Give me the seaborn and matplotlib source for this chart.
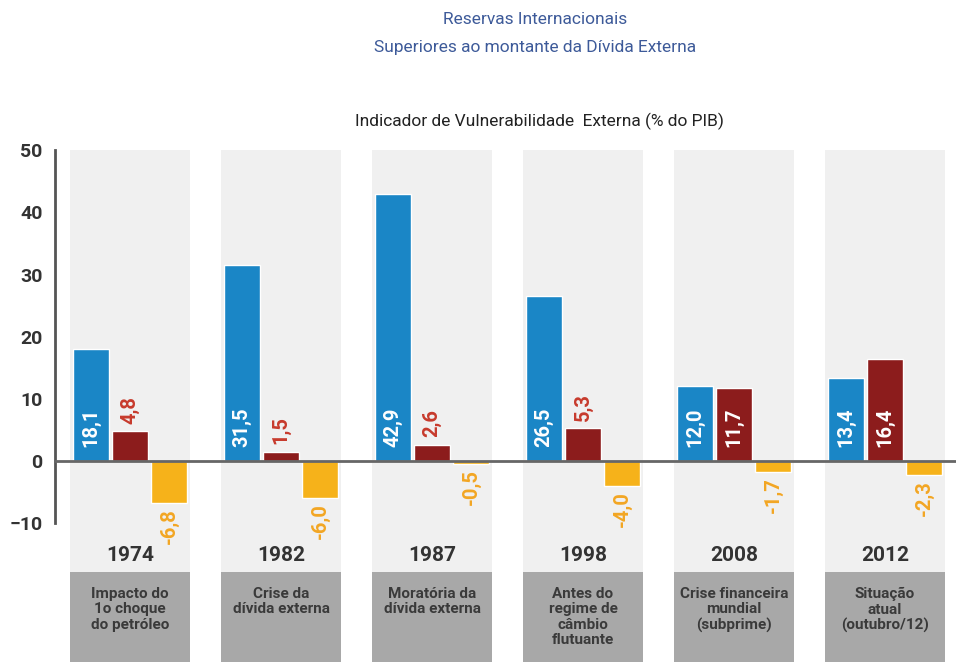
import pandas as pd
import seaborn as sns
import matplotlib.pyplot as plt
from matplotlib.patches import Rectangle

# Data (% do PIB)
years = ["1974", "1982", "1987", "1998", "2008", "2012"]
events = ["Impacto do\n1o choque\ndo petróleo", "Crise da\ndívida externa",
          "Moratória da\ndívida externa", "Antes do\nregime de\ncâmbio\nflutuante",
          "Crise financeira\nmundial\n(subprime)", "Situação\natual\n(outubro/12)"]
series = ["s1", "s2", "s3"]
blue_vals = [18.1, 31.5, 42.9, 26.5, 12.0, 13.4]
red_vals = [4.8, 1.5, 2.6, 5.3, 11.7, 16.4]
yellow_vals = [-6.8, -6.0, -0.5, -4.0, -1.7, -2.3]

df = pd.DataFrame({
    "ano": years * 3,
    "serie": [s for s in series for _ in years],
    "valor": blue_vals + red_vals + yellow_vals,
})

colors = ["#1a86c6", "#8c1c1c", "#f6b21a"]
label_colors = ["white", "#c73a2c", "#f3a623"]

sns.set_style("white")
plt.rcParams["font.family"] = ["Roboto", "DejaVu Sans"]

fig = plt.figure(figsize=(9.56, 6.62), dpi=100)
ax = fig.add_axes([0.0575, 0.0, 0.9425, 0.792])

sns.barplot(data=df, x="ano", y="valor", hue="serie", palette=colors,
            width=0.78, gap=0.08, saturation=1, legend=False, ax=ax, zorder=3)

ax.set_xlim(-0.497, 5.47)
ax.set_ylim(-32.3, 52)

# light gray column behind each period and dark box with description
for i, (yr, ev) in enumerate(zip(years, events)):
    ax.add_patch(Rectangle((i - 0.397, -17.8), 0.794, 67.8, color="#f0f0f0", zorder=0, lw=0))
    ax.add_patch(Rectangle((i - 0.397, -32.3), 0.794, 14.5, color="#a8a8a8", zorder=1, lw=0))
    ax.text(i, -15.1, yr, ha="center", va="center", fontsize=15, fontweight="bold", color="#333333")
    ax.text(i, -20.3, ev, ha="center", va="top", fontsize=11, fontweight="bold",
            color="#3a3a3a", linespacing=1.1)

# value labels, rotated
for k, cont in enumerate(ax.containers):
    for bar, v in zip(cont, [blue_vals, red_vals, yellow_vals][k]):
        xc = bar.get_x() + bar.get_width() / 2
        txt = f"{v:.1f}".replace(".", ",")
        if v < 0:
            ax.text(xc, v - 0.8, txt, rotation=90, ha="center", va="top",
                    fontsize=14.5, fontweight="bold", color=label_colors[2], zorder=4)
        elif v > 8:
            ax.text(xc, 2.2, txt, rotation=90, ha="center", va="bottom",
                    fontsize=14.5, fontweight="bold", color="white", zorder=4)
        else:
            ax.text(xc, v + 1.2, txt, rotation=90, ha="center", va="bottom",
                    fontsize=14.5, fontweight="bold", color=label_colors[1], zorder=4)

# axes styling
for s in ["top", "right"]:
    ax.spines[s].set_visible(False)
ax.spines["left"].set_bounds(-10, 50)
ax.spines["left"].set_color("#555555")
ax.spines["left"].set_linewidth(2)
ax.spines["bottom"].set_position(("data", 0))
ax.spines["bottom"].set_color("#666666")
ax.spines["bottom"].set_linewidth(2)
ax.spines["bottom"].set_zorder(5)

ax.set_yticks(range(-10, 51, 10))
ax.tick_params(axis="y", direction="in", length=17, width=2, color="#555555",
               labelsize=14, labelcolor="#333333", pad=9)
for lab in ax.get_yticklabels():
    lab.set_fontweight("bold")
ax.set_xticks([])
ax.set_xticks([0.5, 1.5, 2.5, 3.5, 4.5], minor=True)
ax.tick_params(axis="x", which="minor", direction="in", length=7, width=1.5, color="#666666")
ax.set_xlabel("")
ax.set_ylabel("")

fig.text(0.56, 0.97, "Reservas Internacionais", ha="center", va="center",
         fontsize=12.5, color="#3d5a99")
fig.text(0.56, 0.929, "Superiores ao montante da Dívida Externa", ha="center", va="center",
         fontsize=12.5, color="#3d5a99")
fig.text(0.564, 0.816, "Indicador de Vulnerabilidade  Externa (% do PIB)", ha="center",
         va="center", fontsize=12.5, color="#222222")

fig.savefig("out.png", dpi=100)
